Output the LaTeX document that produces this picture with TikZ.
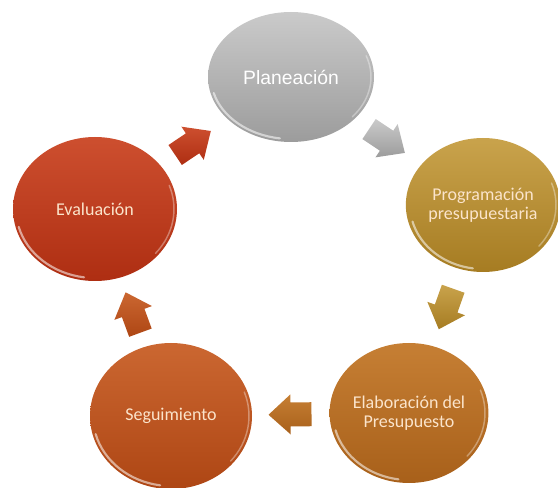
\documentclass[tikz,border=0pt]{standalone}
\usepackage{fontspec}
\setmainfont{Carlito}
\newfontfamily\arialfont{Liberation Sans}
\usetikzlibrary{shapes.geometric,calc}

\definecolor{pTop}{HTML}{CACACA}\definecolor{pMid}{HTML}{ABABAB}\definecolor{pBot}{HTML}{9C9C9C}
\definecolor{gTop}{HTML}{C9A34C}\definecolor{gMid}{HTML}{B98F31}\definecolor{gBot}{HTML}{A67C22}
\definecolor{eTop}{HTML}{C67F34}\definecolor{eMid}{HTML}{B96F23}\definecolor{eBot}{HTML}{A8601A}
\definecolor{sTop}{HTML}{CB6731}\definecolor{sMid}{HTML}{BE5521}\definecolor{sBot}{HTML}{AE4614}
\definecolor{vTop}{HTML}{CD4F2F}\definecolor{vMid}{HTML}{BE3B1C}\definecolor{vBot}{HTML}{AE2E12}
\definecolor{cream}{HTML}{FBE4CB}

\tikzset{
  bubble/.style={ellipse, inner sep=0pt, align=center, text=cream,
    font=\fontsize{13.5}{14.5}\selectfont},
  bubP/.style={top color=pTop, middle color=pMid, bottom color=pBot},
  bubG/.style={top color=gTop, middle color=gMid, bottom color=gBot},
  bubE/.style={top color=eTop, middle color=eMid, bottom color=eBot},
  bubS/.style={top color=sTop, middle color=sMid, bottom color=sBot},
  bubV/.style={top color=vTop, middle color=vMid, bottom color=vBot},
  arrP/.style={top color=pTop, bottom color=pBot},
  arrG/.style={top color=gTop, bottom color=gBot},
  arrE/.style={top color=eTop, bottom color=eBot},
  arrS/.style={top color=sTop, bottom color=sBot},
  arrV/.style={top color=vTop, bottom color=vBot},
  blockarrow/.pic={
    \shade[#1] (-21.5,-12) -- (-0.5,-12) -- (-0.5,-20) -- (21.5,0)
      -- (-0.5,20) -- (-0.5,12) -- (-21.5,12) -- cycle;
  }
}

\newcommand\glossrim[3]{%
  \draw[white, opacity=.55, line width=1.6pt, line cap=round]
    (#1.center) ++(195:#2 and #3) arc[start angle=195, end angle=262, x radius=#2, y radius=#3];
  \draw[white, opacity=.35, line width=1.1pt, line cap=round]
    (#1.center) ++(-40:#2 and #3) arc[start angle=-40, end angle=20, x radius=#2, y radius=#3];
}
\newcommand\cyclearrow[3]{%
  \path let \p1=($(#2.center)-(#1.center)$), \n1={atan2(\y1,\x1)} in
    ($(#1.center)!0.5!(#2.center)$) pic[rotate=\n1] {blockarrow=#3};
}

\begin{document}
\begin{tikzpicture}[x=0.75pt,y=-0.75pt]
\useasboundingbox (0,0) rectangle (558,488);
\begin{scope}
\clip (0,0) rectangle (558,488);
\node[bubble, bubP, minimum width={166*0.75pt}, minimum height={130*0.75pt},
      text=white, font=\arialfont\fontsize{14.5}{16}\selectfont] (plan) at (291,77) {Planeación};
\node[bubble, bubG, minimum width={152*0.75pt}, minimum height={134*0.75pt}] (prog) at (483,205) {Programación\\presupuestaria};
\node[bubble, bubE, minimum width={158*0.75pt}, minimum height={140*0.75pt}] (elab) at (409,413) {Elaboración del\\Presupuesto};
\node[bubble, bubS, minimum width={162*0.75pt}, minimum height={146*0.75pt}] (seg) at (171,416) {Seguimiento};
\node[bubble, bubV, minimum width={164*0.75pt}, minimum height={144*0.75pt}] (eval) at (95,209) {Evaluación};

\glossrim{plan}{60pt}{46.5pt}
\glossrim{prog}{54.75pt}{48pt}
\glossrim{elab}{57pt}{50.25pt}
\glossrim{seg}{58.5pt}{52.5pt}
\glossrim{eval}{59.25pt}{51.75pt}

\cyclearrow{plan}{prog}{arrP}
\cyclearrow{prog}{elab}{arrG}
\cyclearrow{elab}{seg}{arrE}
\cyclearrow{seg}{eval}{arrS}
\cyclearrow{eval}{plan}{arrV}
\end{scope}
\end{tikzpicture}
\end{document}
